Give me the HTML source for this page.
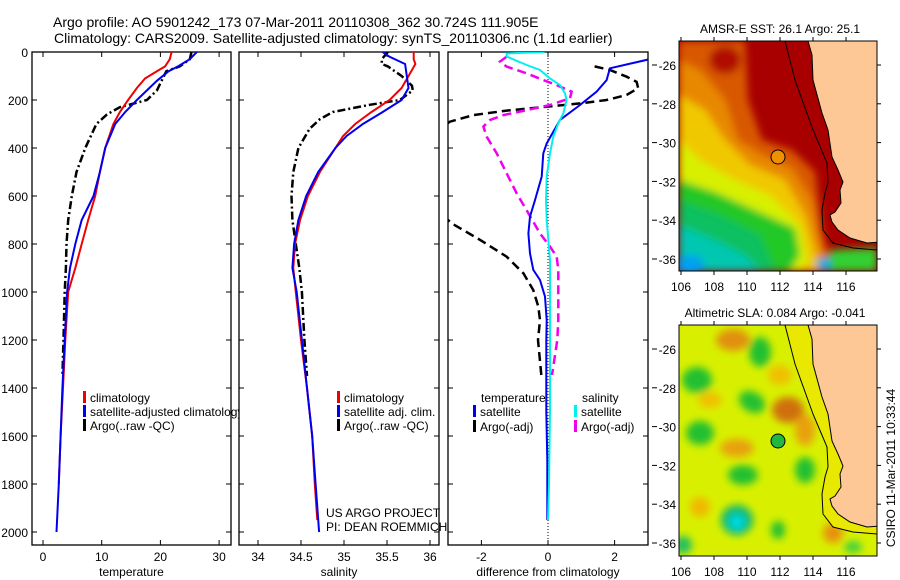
<!DOCTYPE html>
<html><head><meta charset="utf-8">
<style>
html,body{margin:0;padding:0;background:#fff;}
svg{display:block;font-family:"Liberation Sans",sans-serif;}
text{fill:#000;}
</style></head>
<body>
<svg id="fig" width="900" height="580" viewBox="0 0 900 580" xmlns="http://www.w3.org/2000/svg">
<defs>
  <clipPath id="c1"><rect x="32" y="52" width="199" height="493"/></clipPath>
  <clipPath id="c2"><rect x="239" y="52" width="200" height="493"/></clipPath>
  <clipPath id="c3"><rect x="448" y="52" width="200" height="493"/></clipPath>
  <clipPath id="cm1"><rect x="679" y="41" width="198" height="230"/></clipPath>
  <clipPath id="cm2"><rect x="679" y="325" width="198" height="231"/></clipPath>
  <filter id="bl" x="-20%" y="-20%" width="140%" height="140%"><feGaussianBlur stdDeviation="4"/></filter>
</defs>

<text x="53" y="27" font-size="14">Argo profile: AO 5901242_173 07-Mar-2011 20110308_362 30.724S 111.905E</text>
<text x="54" y="43" font-size="14">Climatology: CARS2009. Satellite-adjusted climatology: synTS_20110306.nc (1.1d earlier)</text>

<g id="p1"></g>
<g id="p2"></g>
<g id="p3"></g>

<!-- SST map -->
<g>
<text x="780" y="33" font-size="12" text-anchor="middle">AMSR-E SST: 26.1  Argo: 25.1</text>
<g clip-path="url(#cm1)">
  <rect x="679" y="41" width="198" height="230" fill="#a80000"/>
  <g filter="url(#bl)">
    <polygon fill="#d85800" points="679,41 745,41 748,100 762,140 792,150 815,172 822,230 832,271 679,271"/>
    <polygon fill="#e88800" points="679,60 700,70 725,100 738,140 762,155 792,168 812,200 820,240 830,271 679,271"/>
    <ellipse cx="725" cy="60" rx="16" ry="14" fill="#b01000"/>
    <polygon fill="#f0c800" points="679,95 705,110 725,140 750,165 785,180 805,215 815,250 818,271 679,271"/>
    <polygon fill="#d8f000" points="679,140 700,160 735,180 770,195 800,225 808,260 800,271 679,271"/>
    <polygon fill="#20c828" points="679,180 715,192 755,210 795,228 800,255 790,271 679,271"/>
    <polygon fill="#10c060" points="679,200 720,215 760,235 775,271 679,271"/>
    <polygon fill="#00c8b0" points="679,225 715,240 745,255 760,271 679,271"/>
    <ellipse cx="690" cy="265" rx="14" ry="10" fill="#00a0f0"/>
    <ellipse cx="828" cy="264" rx="12" ry="7" fill="#00a8e0"/>
    <polygon fill="#30d030" points="830,250 877,248 877,271 830,271"/>
  </g>
  <polygon fill="#fdc896" stroke="#000" stroke-width="1" points="808,41 812,55 813,80 822,113 828,130 832,157 838,170 843,182 840,190 841,203 835,212 830,215 832,222 838,230 850,238 867,243 880,242 880,41"/>
  <polyline fill="none" stroke="#000" stroke-width="1" points="785,41 795,80 813,130 827,163 828,183 825,193 822,210 823,230 833,243 853,248 877,250"/>
  <circle cx="778" cy="157" r="7" fill="#f09000" stroke="#000" stroke-width="1"/>
</g>
<rect x="679" y="41" width="198" height="230" fill="none" stroke="#000" stroke-width="1"/>
<g id="m1ticks"></g>
</g>

<!-- SLA map -->
<g>
<text x="775" y="317" font-size="12" text-anchor="middle">Altimetric SLA: 0.084  Argo: -0.041</text>
<g clip-path="url(#cm2)">
  <rect x="679" y="325" width="198" height="231" fill="#d8f000"/>
  <g filter="url(#bl)">
    <ellipse cx="733" cy="340" rx="17" ry="11" fill="#e09010"/>
    <ellipse cx="788" cy="410" rx="16" ry="13" fill="#d07010"/>
    <ellipse cx="805" cy="430" rx="10" ry="16" fill="#e8a010"/>
    <ellipse cx="737" cy="448" rx="17" ry="9" fill="#e8a010"/>
    <ellipse cx="710" cy="400" rx="12" ry="8" fill="#f0c000"/>
    <ellipse cx="700" cy="507" rx="10" ry="10" fill="#f0b800"/>
    <ellipse cx="833" cy="533" rx="10" ry="10" fill="#e89010"/>
    <ellipse cx="780" cy="375" rx="12" ry="10" fill="#f0c000"/>
    <ellipse cx="697" cy="380" rx="15" ry="13" fill="#20c030"/>
    <ellipse cx="760" cy="352" rx="11" ry="15" fill="#20c030"/>
    <ellipse cx="752" cy="402" rx="14" ry="10" fill="#20c030" transform="rotate(30 752 402)"/>
    <ellipse cx="700" cy="433" rx="14" ry="12" fill="#20c030"/>
    <ellipse cx="743" cy="475" rx="15" ry="10" fill="#20c030"/>
    <ellipse cx="805" cy="470" rx="10" ry="13" fill="#20c030"/>
    <ellipse cx="737" cy="520" rx="16" ry="15" fill="#10b870"/>
    <ellipse cx="737" cy="522" rx="8" ry="8" fill="#00d8e0"/>
    <ellipse cx="778" cy="530" rx="7" ry="9" fill="#20c030"/>
    <ellipse cx="683" cy="545" rx="9" ry="9" fill="#20c060"/>
    <ellipse cx="853" cy="547" rx="9" ry="6" fill="#40d040"/>
  </g>
  <polygon fill="#e8e800" points="785,325 795,364 813,414 827,447 828,467 825,477 822,494 823,514 833,527 853,532 877,534 880,534 880,325"/>
  <polygon fill="#fdc896" stroke="#000" stroke-width="1" points="808,325 812,339 813,364 822,397 828,414 832,441 838,454 843,466 840,474 841,487 835,496 830,499 832,506 838,514 850,522 867,527 880,526 880,325"/>
  <polyline fill="none" stroke="#000" stroke-width="1" points="785,325 795,364 813,414 827,447 828,467 825,477 822,494 823,514 833,527 853,532 877,534"/>
  <circle cx="778" cy="441" r="7" fill="#20b840" stroke="#000" stroke-width="1"/>
</g>
<rect x="679" y="325" width="198" height="231" fill="none" stroke="#000" stroke-width="1"/>
<g id="m2ticks"></g>
</g>
<text transform="translate(895,468) rotate(-90)" font-size="12" text-anchor="middle">CSIRO 11-Mar-2011 10:33:44</text>
</svg>

<script>
// ---- data ----
const depthTicks = [0,200,400,600,800,1000,1200,1400,1600,1800,2000];
const tempTicks = [0,10,20,30];
const salTicks = [34,34.5,35,35.5,36];
const diffTicks = [-2,0,2];

const climTDepth = [0,30,60,80,110,150,200,250,300,400,500,600,700,800,900,1000,1200,1400,1600,1800];
const climTemp   = [21.9,21.6,20.8,19.4,17.4,16.0,14.5,13.1,12.0,10.6,9.7,8.9,7.7,6.6,5.5,4.3,3.8,3.4,3.0,2.7];
const satTDepth = [0,30,60,80,120,200,250,300,400,500,600,700,800,900,1000,1200,1400,1600,1800,2000];
const satTemp   = [26.2,25.0,23.0,21.4,19.4,16.0,14.0,12.3,10.6,9.7,8.6,6.6,5.5,4.6,4.1,3.7,3.3,3.0,2.7,2.3];
const argoTDepth = [0,30,60,80,120,160,200,230,260,300,400,500,600,700,800,900,1000,1200,1350];
const argoTemp   = [25.3,25.0,23.3,21.0,20.2,19.4,17.7,13.1,10.9,9.1,7.2,5.7,4.9,4.3,4.0,3.9,3.7,3.5,3.3];

const climSDepth = [0,30,50,100,150,200,250,300,350,400,500,600,700,800,900,1000,1200,1400,1600,1800,1950];
const climSal    = [35.81,35.81,35.83,35.75,35.67,35.53,35.32,35.13,34.99,34.90,34.72,34.58,34.49,34.43,34.41,34.44,34.50,34.57,34.63,34.66,34.69];
const satSDepth = [0,20,50,100,150,200,250,300,350,400,500,600,700,800,900,1000,1200,1400,1600,1800,2000];
const satSal    = [35.45,35.53,35.71,35.73,35.75,35.67,35.45,35.22,35.03,34.90,34.70,34.56,34.47,34.42,34.40,34.45,34.51,34.57,34.63,34.67,34.71];
const argoSDepth = [0,30,50,60,100,140,160,200,220,250,280,320,400,500,600,700,800,900,1000,1200,1350];
const argoSal    = [35.51,35.44,35.44,35.51,35.67,35.79,35.80,35.65,35.30,34.87,34.72,34.60,34.47,34.41,34.39,34.40,34.44,34.48,34.51,34.54,34.57];

const dSatTDepth = [0,33,68,117,165,221,283,381,422,519,617,686,756,839,908,950,1019,1117,1200,1500,1700,1950];
const dSatT      = [3.5,2.96,1.86,1.76,1.46,0.96,0.36,-0.04,-0.14,-0.19,-0.39,-0.54,-0.59,-0.54,-0.44,-0.24,-0.09,-0.04,-0.05,-0.05,-0.02,-0.02];
const dArgoTDepth = [60,75,103,124,151,179,200,214,231,244,263,290,350,450,550,650,714,783,853,922,992,1061,1117,1200,1346];
const dArgoT      = [1.4,1.86,2.36,2.66,2.71,2.36,1.76,0.96,-0.24,-1.24,-2.24,-2.94,-3.6,-4.0,-4.0,-3.4,-2.89,-2.04,-1.24,-0.74,-0.44,-0.29,-0.24,-0.3,-0.2];
const dSatSDepth = [0,6,19,54,75,110,138,172,200,256,297,353,422,519,617,700,783,867,1117,1500,1800,1950];
const dSatS      = [-0.1,-1.24,-1.24,-0.64,-0.24,0.06,0.36,0.51,0.56,0.46,0.31,0.16,0.06,-0.04,-0.06,-0.04,0.01,0.06,0.06,0.06,0.03,0.0];
const dArgoSDepth = [19,40,61,89,117,138,165,193,221,242,263,283,311,353,422,506,589,672,756,811,853,908,1117,1200,1346];
const dArgoS      = [-1.24,-1.44,-1.24,-0.64,-0.14,0.26,0.71,0.66,0.06,-0.64,-1.34,-1.74,-1.94,-1.84,-1.54,-1.24,-0.94,-0.59,-0.24,0.06,0.26,0.31,0.31,0.28,0.12];

const lonTicks = [106,108,110,112,114,116];
const latTicks = [-26,-28,-30,-32,-34,-36];

// ---- helpers ----
const NS = 'http://www.w3.org/2000/svg';
function mk(parent, tag, attrs){ const e=document.createElementNS(NS,tag); for(const k in attrs) e.setAttribute(k,attrs[k]); parent.appendChild(e); return e; }
const yD = d => 52 + d*0.24;
const TOP=52, BOT=545;
const xT = v => 43 + v*5.87;
const xS = v => 258 + (v-34)*86;
const xDf = v => 548 + v*33.3;

function frame(g, x0, x1, ticks, fx, fmt, title, leftLabels){
  const r = mk(g,'rect',{x:x0,y:TOP,width:x1-x0,height:BOT-TOP,fill:'#fff',stroke:'#000','stroke-width':1.3});
  
  
  depthTicks.forEach(d=>{
    const y=yD(d);
    mk(g,'line',{x1:x0,x2:x0+5,y1:y,y2:y,stroke:'#000','stroke-width':1});
    mk(g,'line',{x1:x1-5,x2:x1,y1:y,y2:y,stroke:'#000','stroke-width':1});
    if(leftLabels){
      const t=mk(g,'text',{x:x0-4,y:y+5,'font-size':12,'text-anchor':'end'}); t.textContent=d;
      
      
    }
  });
  ticks.forEach(v=>{
    const x=fx(v);
    mk(g,'line',{x1:x,x2:x,y1:TOP,y2:TOP+5,stroke:'#000','stroke-width':1});
    mk(g,'line',{x1:x,x2:x,y1:BOT-5,y2:BOT,stroke:'#000','stroke-width':1});
    const t=mk(g,'text',{x:x,y:561,'font-size':12,'text-anchor':'middle'}); t.textContent=fmt(v);
    
    
  });
  const tt=mk(g,'text',{x:(x0+x1)/2,y:576,'font-size':12,'text-anchor':'middle'}); tt.textContent=title;
  
  
}
function line(g, depths, vals, fx, color, w, dash, name, clip){
  const pts = depths.map((d,i)=>fx(vals[i]).toFixed(1)+','+yD(d).toFixed(1)).join(' ');
  const p = mk(g,'polyline',{points:pts,fill:'none',stroke:color,'stroke-width':w,'clip-path':'url(#'+clip+')'});
  if(dash) p.setAttribute('stroke-dasharray',dash);
  
  
}
function legend(g, x, y, color, label){
  mk(g,'rect',{x:x,y:y-7,width:3,height:12,fill:color});
  const t=mk(g,'text',{x:x+7,y:y+4,'font-size':12}); t.textContent=label;
  
  
}
const DD='8,3,2,3';

// panel 1
const g1=document.getElementById('p1');
frame(g1,32,231,tempTicks,xT,v=>v,'temperature',true);
line(g1,argoTDepth,argoTemp,xT,'#000',2.5,DD,'argo-temperature-line','c1');
line(g1,climTDepth,climTemp,xT,'#f00000',2,null,'climatology-temperature-line','c1');
line(g1,satTDepth,satTemp,xT,'#0000f0',2,null,'satellite-temperature-line','c1');
legend(g1,83,398,'#f00000','climatology');
legend(g1,83,412,'#0000f0','satellite-adjusted climatology');
legend(g1,83,426,'#000','Argo(..raw -QC)');

// panel 2
const g2=document.getElementById('p2');
frame(g2,239,439,salTicks,xS,v=>v,'salinity',false);
line(g2,argoSDepth,argoSal,xS,'#000',2.5,DD,'argo-salinity-line','c2');
line(g2,climSDepth,climSal,xS,'#f00000',2,null,'climatology-salinity-line','c2');
line(g2,satSDepth,satSal,xS,'#0000f0',2,null,'satellite-salinity-line','c2');
legend(g2,337,398,'#f00000','climatology');
legend(g2,337,412,'#0000f0','satellite adj. clim.');
legend(g2,337,426,'#000','Argo(..raw -QC)');

// panel 3
const g3=document.getElementById('p3');
frame(g3,448,648,diffTicks,xDf,v=>v,'difference from climatology',false);
mk(g3,'line',{x1:xDf(0),x2:xDf(0),y1:TOP,y2:BOT,stroke:'#000','stroke-width':1,'stroke-dasharray':'1,2'});
line(g3,dArgoTDepth,dArgoT,xDf,'#000',2.5,'9,5','argo-temperature-difference','c3');
line(g3,dArgoSDepth,dArgoS,xDf,'#f000f0',2.5,'9,5','argo-salinity-difference','c3');
line(g3,dSatTDepth,dSatT,xDf,'#0000f0',2,null,'satellite-temperature-difference','c3');
line(g3,dSatSDepth,dSatS,xDf,'#00f0f0',2,null,'satellite-salinity-difference','c3');
(function(){
  let t=mk(g3,'text',{x:481,y:402,'font-size':12}); t.textContent='temperature';
  
  
  t=mk(g3,'text',{x:582,y:402,'font-size':12}); t.textContent='salinity';
  
  
})();
legend(g3,473,412,'#0000f0','satellite');
legend(g3,473,427,'#000','Argo(-adj)');
legend(g3,574,412,'#00f0f0','satellite');
legend(g3,574,427,'#f000f0','Argo(-adj)');

// project label
(function(){
  const svg=document.getElementById('fig');
  let t=mk(svg,'text',{x:326,y:517,'font-size':12}); t.textContent='US ARGO PROJECT';
  
  
  t=mk(svg,'text',{x:326,y:531,'font-size':12}); t.textContent='PI: DEAN ROEMMICH';
  
  
})();

// map ticks
function mapTicks(id, y0, y1, lat26){
  const g=document.getElementById(id);
  const xL = lon => 681 + (lon-106)*16.5;
  const yL = lat => lat26 + (-26-lat)*19.4;
  lonTicks.forEach(lon=>{
    const x=xL(lon);
    mk(g,'line',{x1:x,x2:x,y1:y0-4,y2:y0,stroke:'#000'});
    mk(g,'line',{x1:x,x2:x,y1:y1,y2:y1+4,stroke:'#000'});
    const t=mk(g,'text',{x:x,y:y1+20,'font-size':12,'text-anchor':'middle'}); t.textContent=lon;
    
    
  });
  latTicks.forEach(lat=>{
    const y=yL(lat);
    mk(g,'line',{x1:652,x2:657,y1:y,y2:y,stroke:'#000'});
    mk(g,'line',{x1:877,x2:881,y1:y,y2:y,stroke:'#000'});
    const t=mk(g,'text',{x:676,y:y+5,'font-size':12,'text-anchor':'end'}); t.textContent=lat;
    
    
  });
}
mapTicks('m1ticks',41,271,65);
mapTicks('m2ticks',325,556,349);
</script>
</body></html>
